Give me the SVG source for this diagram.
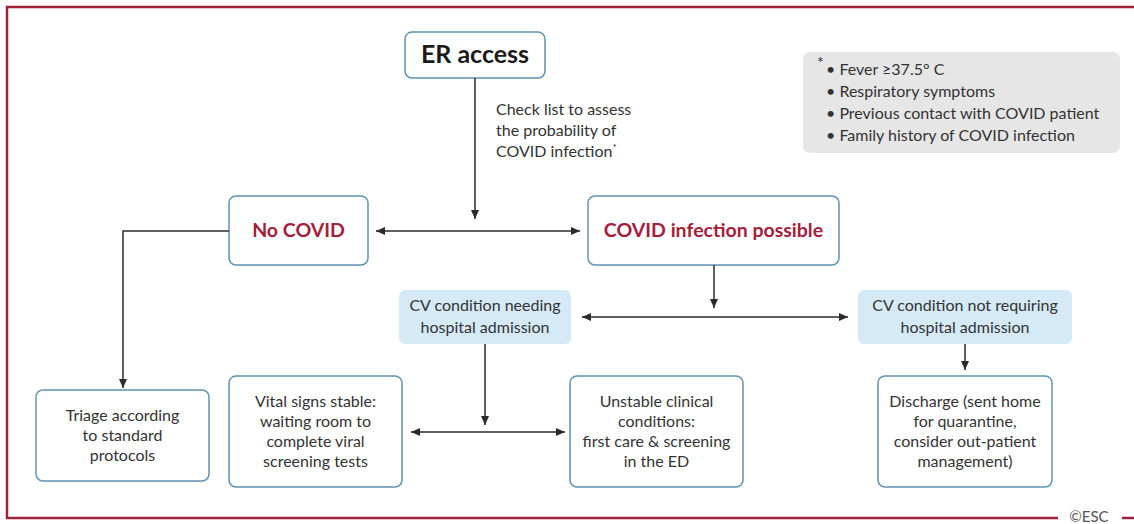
<svg xmlns="http://www.w3.org/2000/svg" width="1134" height="524" viewBox="0 0 1134 524">
<defs>
<marker id="ah" markerWidth="10" markerHeight="10" refX="9" refY="5" orient="auto-start-reverse" markerUnits="userSpaceOnUse">
<path d="M0,1 L9,5 L0,9 Z" fill="#2b2b2b"/>
</marker>
<style>
.box{fill:#fff;stroke:#5f93b0;stroke-width:1.5}
.blue{fill:#d5e9f6}
.gray{fill:#e6e6e6}
.t{font-family:Lato,"Liberation Sans",Arial,sans-serif;font-size:16px;fill:#333;text-anchor:middle}
.tl{font-family:Lato,"Liberation Sans",Arial,sans-serif;font-size:16px;fill:#333}
.red{font-family:Lato,"Liberation Sans",Arial,sans-serif;font-size:19.5px;font-weight:bold;fill:#a3203a;text-anchor:middle}
.c{fill:none;stroke:#2b2b2b;stroke-width:1.5}
</style>
</defs>
<rect width="1134" height="524" fill="#fff"/>
<g id="frame">
<path d="M1134,7 H7 V518 H1058" fill="none" stroke="#9e2338" stroke-width="2.5"/>
<path d="M1122,518 H1134" fill="none" stroke="#9e2338" stroke-width="2.5"/>
<text x="1089" y="522" font-family="Lato,'Liberation Sans',Arial,sans-serif" font-size="15" fill="#555" text-anchor="middle">©ESC</text>
</g>
<g id="er-access">
<rect class="box" x="405" y="32" width="140" height="46" rx="7"/>
<text x="475" y="63" font-family="Lato,'Liberation Sans',Arial,sans-serif" font-size="25" font-weight="bold" fill="#1a1a1a" text-anchor="middle">ER access</text>
</g>
<g id="checklist-label">
<text class="tl" x="496" y="115">Check list to assess</text>
<text class="tl" x="496" y="136">the probability of</text>
<text class="tl" x="496" y="157">COVID infection<tspan font-size="10" dy="-6">*</tspan></text>
</g>
<g id="criteria">
<rect class="gray" x="803" y="52" width="317" height="101" rx="7"/>
<text class="tl" x="817" y="68" font-size="11">*</text>
<text class="tl" x="826" y="75">• Fever ≥37.5° C</text>
<text class="tl" x="826" y="97">• Respiratory symptoms</text>
<text class="tl" x="826" y="119">• Previous contact with COVID patient</text>
<text class="tl" x="826" y="141">• Family history of COVID infection</text>
</g>
<g id="no-covid">
<rect class="box" x="229" y="196" width="139" height="69" rx="7"/>
<text class="red" x="298.5" y="237">No COVID</text>
</g>
<g id="covid-possible">
<rect class="box" x="588" y="196" width="251" height="69" rx="7"/>
<text class="red" x="713.5" y="237">COVID infection possible</text>
</g>
<g id="cv-needing">
<rect class="blue" x="399" y="290" width="172" height="54" rx="6"/>
<text class="t" x="485" y="311">CV condition needing</text>
<text class="t" x="485" y="333">hospital admission</text>
</g>
<g id="cv-not-requiring">
<rect class="blue" x="858" y="290" width="214" height="54" rx="6"/>
<text class="t" x="965" y="311">CV condition not requiring</text>
<text class="t" x="965" y="333">hospital admission</text>
</g>
<g id="triage">
<rect class="box" x="36" y="390" width="173" height="91" rx="7"/>
<text class="t" x="122.5" y="421">Triage according</text>
<text class="t" x="122.5" y="441">to standard</text>
<text class="t" x="122.5" y="461">protocols</text>
</g>
<g id="vital-stable">
<rect class="box" x="229" y="376" width="173" height="111" rx="7"/>
<text class="t" x="315.5" y="407">Vital signs stable:</text>
<text class="t" x="315.5" y="427">waiting room to</text>
<text class="t" x="315.5" y="447">complete viral</text>
<text class="t" x="315.5" y="467">screening tests</text>
</g>
<g id="unstable">
<rect class="box" x="570" y="376" width="173" height="111" rx="7"/>
<text class="t" x="656.5" y="407">Unstable clinical</text>
<text class="t" x="656.5" y="427">conditions:</text>
<text class="t" x="656.5" y="447">first care &amp; screening</text>
<text class="t" x="656.5" y="467">in the ED</text>
</g>
<g id="discharge">
<rect class="box" x="878" y="376" width="174" height="111" rx="7"/>
<text class="t" x="965" y="407">Discharge (sent home</text>
<text class="t" x="965" y="427">for quarantine,</text>
<text class="t" x="965" y="447">consider out-patient</text>
<text class="t" x="965" y="467">management)</text>
</g>
<g id="connectors">
<path class="c" d="M475,78 V219" marker-end="url(#ah)"/>
<path class="c" d="M376,231 H580" marker-start="url(#ah)" marker-end="url(#ah)"/>
<path class="c" d="M229,231 H123 V388" marker-end="url(#ah)"/>
<path class="c" d="M714,265 V308" marker-end="url(#ah)"/>
<path class="c" d="M582,317 H848" marker-start="url(#ah)" marker-end="url(#ah)"/>
<path class="c" d="M485,344 V425" marker-end="url(#ah)"/>
<path class="c" d="M411,432 H565" marker-start="url(#ah)" marker-end="url(#ah)"/>
<path class="c" d="M965,344 V370" marker-end="url(#ah)"/>
</g>
</svg>
